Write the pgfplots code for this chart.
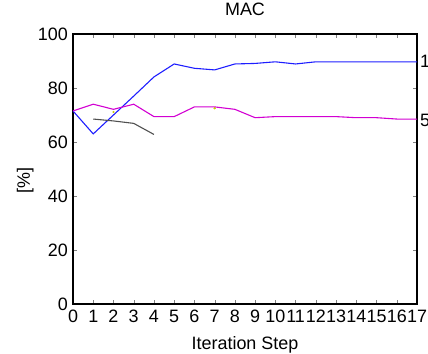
\documentclass[border=0pt]{standalone}
\usepackage{pgfplots}
\pgfplotsset{compat=1.18}
\usepackage{fontspec}
\setmainfont{Liberation Sans}
\definecolor{cblue}{RGB}{30,30,255}
\definecolor{cmag}{RGB}{210,0,210}
\definecolor{cgray}{RGB}{80,80,80}
\definecolor{cyel}{RGB}{200,200,0}
\begin{document}
\begin{tikzpicture}[x=1bp,y=1bp]
\useasboundingbox (0,0) rectangle (428,354);
\begin{axis}[
  at={(73bp,50bp)}, anchor=south west,
  scale only axis, width=344bp, height=270bp,
  xmin=0, xmax=17, ymin=0, ymax=100,
  xtick={0,...,17}, ytick={0,20,...,100},
  tick align=inside, major tick length=4bp,
  axis line style={line width=1.4pt},
  font=\fontsize{18}{21}\selectfont,
  /pgf/number format/assume math mode=true,
  xticklabel style={inner sep=0bp, yshift=-6bp},
  yticklabel style={inner sep=0bp, xshift=-5bp},
  title={MAC}, title style={at={(axis description cs:0.5,1)}, anchor=base, yshift=13bp},
  xlabel={Iteration Step}, ylabel={[\%]},
  xlabel style={at={(axis description cs:0.5,0)}, anchor=base, yshift=-45bp},
  ylabel style={at={(axis description cs:-0.125,0.456)}, anchor=base},
  clip=false,
]
\addplot[cblue, line width=1.1pt] coordinates {
(0,71.5)(1,63)(2,70)(3,77)(4,84.1)(5,88.9)(6,87.3)(7,86.7)(8,88.9)(9,89.1)
(10,89.7)(11,88.9)(12,89.7)(13,89.7)(14,89.7)(15,89.7)(16,89.7)(17,89.7)};
\addplot[cmag, line width=1.1pt] coordinates {
(0,71.5)(1,74)(2,72.1)(3,74)(4,69.4)(5,69.4)(6,73)(7,73)(8,72.1)(9,69)
(10,69.4)(11,69.4)(12,69.4)(13,69.4)(14,69)(15,69)(16,68.5)(17,68.5)};
\addplot[cgray, line width=1.1pt] coordinates {
(1,68.5)(2,67.8)(3,66.9)(4,62.8)};
\addplot[only marks, mark=*, mark size=0.9bp, cyel] coordinates {(2,71.1)(7,72.5)};
\end{axis}
\node[anchor=base west, font=\fontsize{18}{21}\selectfont, inner sep=0] at (420,286.5) {1};
\node[anchor=base west, font=\fontsize{18}{21}\selectfont, inner sep=0] at (420,227.5) {5};
\end{tikzpicture}
\end{document}
